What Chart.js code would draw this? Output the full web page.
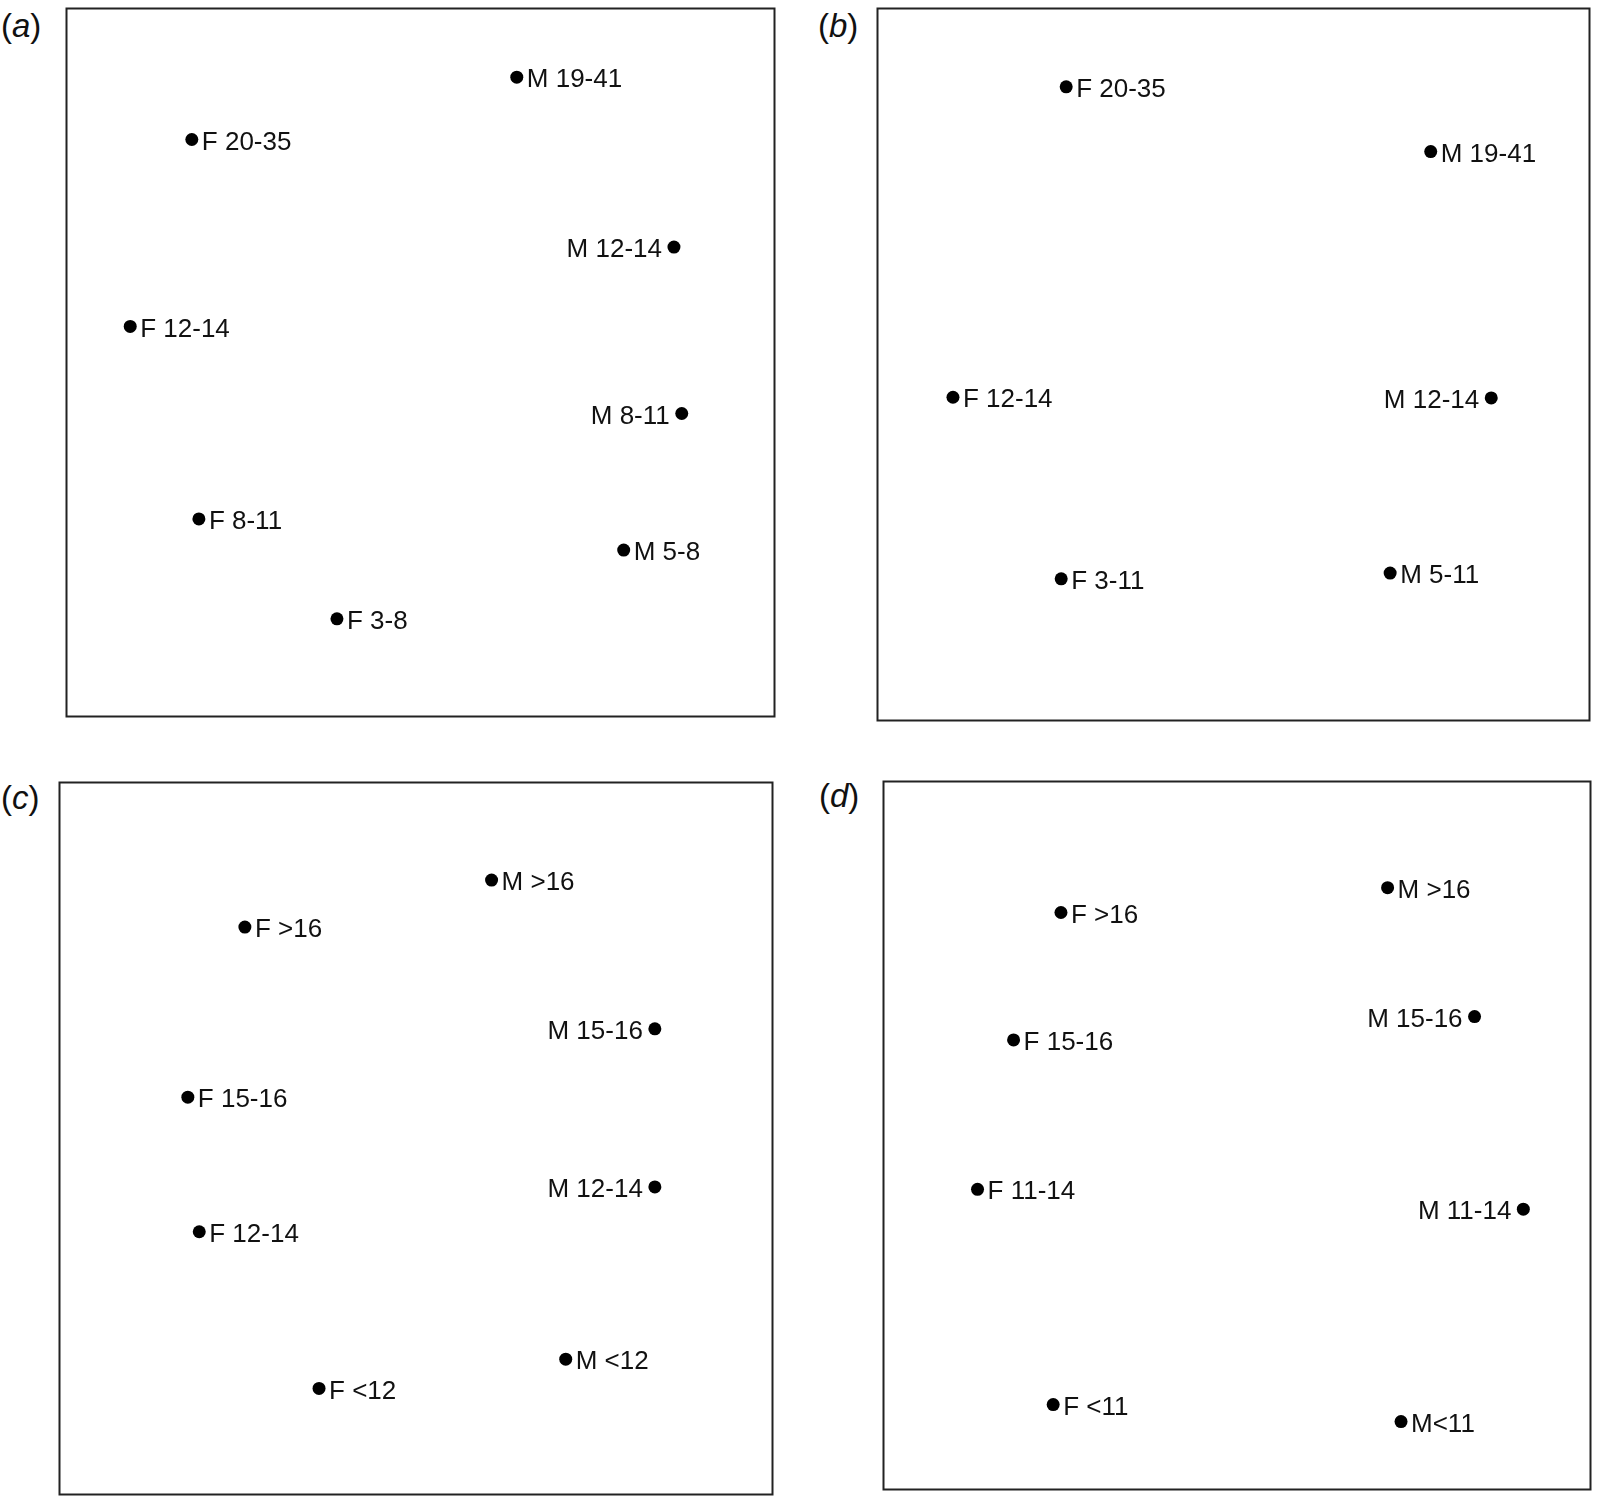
<!DOCTYPE html>
<html>
<head>
<meta charset="utf-8">
<script src="https://cdn.jsdelivr.net/npm/chart.js@4.4.1/dist/chart.umd.min.js"></script>
<style>
  html, body { margin: 0; padding: 0; background: #fff; }
  body { width: 1600px; height: 1504px; position: relative; overflow: hidden; font-family: "Liberation Sans", Arial, sans-serif; }
  .panel { position: absolute; }
  .tag { position: absolute; font-size: 33px; color: #111; line-height: 1; }
</style>
</head>
<body>
<div class="tag" style="left:1px; top:9px;">(<i>a</i>)</div>
<div class="tag" style="left:818px; top:9px;">(<i>b</i>)</div>
<div class="tag" style="left:1px; top:781px;">(<i>c</i>)</div>
<div class="tag" style="left:819px; top:779px;">(<i>d</i>)</div>

<div class="panel" style="left:60px; top:2px;"><canvas id="chartA" width="721" height="721"></canvas></div>
<div class="panel" style="left:871px; top:2px;"><canvas id="chartB" width="725" height="725"></canvas></div>
<div class="panel" style="left:53px; top:776px;"><canvas id="chartC" width="726" height="725"></canvas></div>
<div class="panel" style="left:877px; top:775px;"><canvas id="chartD" width="720" height="721"></canvas></div>

<script>
// (a)
const aLabels = ["M 19-41", "F 20-35", "M 12-14", "F 12-14", "M 8-11", "F 8-11", "M 5-8", "F 3-8"];
const aX = [63.6, 17.7, 85.8, 9.0, 86.9, 18.7, 78.7, 38.2];
const aY = [90.3, 81.5, 66.3, 55.1, 42.8, 27.9, 23.5, 13.8];
const aSide = ["r", "r", "l", "r", "l", "r", "r", "r"];

// (b)
const bLabels = ["F 20-35", "M 19-41", "F 12-14", "M 12-14", "F 3-11", "M 5-11"];
const bX = [26.5, 77.7, 10.6, 86.2, 25.8, 72.0];
const bY = [89.0, 79.9, 45.4, 45.3, 19.9, 20.7];
const bSide = ["r", "r", "r", "l", "r", "r"];

// (c)
const cLabels = ["M >16", "F >16", "M 15-16", "F 15-16", "M 12-14", "F 12-14", "M <12", "F <12"];
const cX = [60.6, 26.0, 83.5, 18.0, 83.5, 19.6, 71.0, 36.4];
const cY = [86.3, 79.7, 65.4, 55.8, 43.2, 36.9, 19.0, 14.9];
const cSide = ["r", "r", "l", "r", "l", "r", "r", "r"];

// (d)
const dLabels = ["M >16", "F >16", "M 15-16", "F 15-16", "F 11-14", "M 11-14", "F <11", "M<11"];
const dX = [71.3, 25.1, 83.6, 18.4, 13.3, 90.5, 24.0, 73.2];
const dY = [85.0, 81.5, 66.8, 63.5, 42.4, 39.6, 12.0, 9.6];
const dSide = ["r", "r", "l", "r", "r", "l", "r", "r"];

// frame round the plot area + point labels
const frameLabels = {
  id: "frameLabels",
  afterDatasetsDraw(chart) {
    const ctx = chart.ctx;
    const a = chart.chartArea;
    ctx.save();
    ctx.strokeStyle = "#222";
    ctx.lineWidth = 2;
    ctx.strokeRect(a.left, a.top, a.right - a.left, a.bottom - a.top);

    const ds = chart.data.datasets[0];
    const meta = chart.getDatasetMeta(0);
    ctx.fillStyle = "#111";
    ctx.font = "26px 'Liberation Sans', Arial, sans-serif";
    ctx.textBaseline = "middle";
    meta.data.forEach((pt, i) => {
      const txt = chart.data.labels[i];
      if (ds.sides[i] === "l") {
        ctx.textAlign = "right";
        ctx.fillText(txt, pt.x - 12, pt.y + 3);
      } else {
        ctx.textAlign = "left";
        ctx.fillText(txt, pt.x + 10, pt.y + 3);
      }
    });
    ctx.restore();
  }
};

function makePanel(id, labels, xs, ys, sides) {
  new Chart(document.getElementById(id), {
    type: "scatter",
    data: {
      labels: labels,
      datasets: [{
        data: xs.map((x, i) => ({ x: x, y: ys[i] })),
        sides: sides,
        pointRadius: 6.5,
        pointHoverRadius: 6.5,
        pointBackgroundColor: "#000",
        pointBorderWidth: 0
      }]
    },
    options: {
      responsive: false,
      animation: false,
      layout: { padding: 2 },
      plugins: { legend: { display: false }, tooltip: { enabled: false } },
      scales: {
        x: { display: false, min: 0, max: 100 },
        y: { display: false, min: 0, max: 100 }
      }
    },
    plugins: [frameLabels]
  });
}

makePanel("chartA", aLabels, aX, aY, aSide);
makePanel("chartB", bLabels, bX, bY, bSide);
makePanel("chartC", cLabels, cX, cY, cSide);
makePanel("chartD", dLabels, dX, dY, dSide);
</script>
</body>
</html>
